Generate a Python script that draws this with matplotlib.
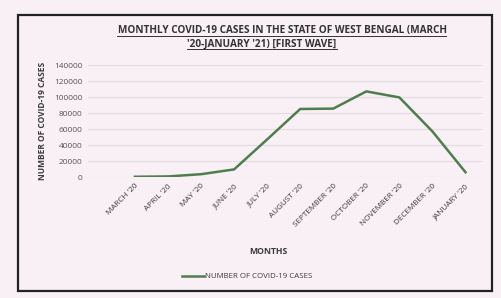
import numpy as np
import matplotlib.pyplot as plt
from matplotlib.patches import Rectangle
from matplotlib.lines import Line2D

# data
months = ["MARCH '20", "APRIL '20", "MAY '20", "JUNE '20", "JULY '20", "AUGUST '20",
          "SEPTEMBER '20", "OCTOBER '20", "NOVEMBER '20", "DECEMBER '20", "JANUARY '20"]
cases = [300, 700, 3500, 9500, 47000, 85000, 85500, 107000, 99500, 57000, 6000]
yticks = [0, 20000, 40000, 60000, 80000, 100000, 120000, 140000]

plt.rcParams['font.family'] = ['Open Sans', 'DejaVu Sans']
bg = '#f8f0f5'
green = '#4f7d4f'
txt = '#3a3a3a'
W, H = 501, 298

fig = plt.figure(figsize=(5.01, 2.98), dpi=100)
fig.patch.set_facecolor(bg)

# outer chart frame
fig.add_artist(Rectangle((18 / W, 1 - 291 / H), 474 / W, 276 / H,
                         transform=fig.transFigure, fill=False, edgecolor='#222222', lw=1.6))

ax = fig.add_axes([88 / W, 1 - 177 / H, 394 / W, 112 / H])
ax.set_facecolor(bg)
x = np.arange(len(months))
ax.plot(x, cases, color=green, lw=1.8)
ax.set_xlim(-1.42, 10.5)
ax.set_ylim(0, 140000)
ax.set_yticks(yticks)
ax.set_yticklabels([str(v) for v in yticks], fontsize=6.0, color='#555555')
ax.set_xticks(x)
ax.set_xticklabels(months, rotation=45, ha='right', rotation_mode='anchor',
                   fontsize=5.9, color=txt)
ax.tick_params(length=0, pad=4)
ax.grid(axis='y', color='#e2dbe0', lw=0.8)
for s in ax.spines.values():
    s.set_visible(False)

ax.set_ylabel('NUMBER OF COVID-19 CASES', fontsize=6.0, fontweight='bold', color=txt, labelpad=5)

t1 = fig.text(282 / W, 1 - 31 / H, "MONTHLY COVID-19 CASES IN THE STATE OF WEST BENGAL (MARCH",
              ha='center', va='center', fontsize=7.2, fontweight='bold', color='#333333')
t2 = fig.text(262 / W, 1 - 44 / H, "'20-JANUARY '21) [FIRST WAVE]",
              ha='center', va='center', fontsize=7.2, fontweight='bold', color='#333333')

fig.text(268 / W, 1 - 251 / H, 'MONTHS', ha='center', va='center',
         fontsize=6.2, fontweight='bold', color=txt)

# legend
fig.add_artist(Line2D([182 / W, 204 / W], [1 - 276 / H, 1 - 276 / H],
                      transform=fig.transFigure, color=green, lw=1.8))
fig.text(205 / W, 1 - 276 / H, 'NUMBER OF COVID-19 CASES', ha='left', va='center',
         fontsize=5.7, color=txt)

# underline the title lines just below the text
fig.canvas.draw()
r = fig.canvas.get_renderer()
for t in (t1, t2):
    bb = t.get_window_extent(r).transformed(fig.transFigure.inverted())
    yl = bb.y0 + 0.6 / H
    fig.add_artist(Line2D([bb.x0, bb.x1], [yl, yl], transform=fig.transFigure,
                          color='#333333', lw=0.7))

fig.savefig('out.png', dpi=100, facecolor=bg)
